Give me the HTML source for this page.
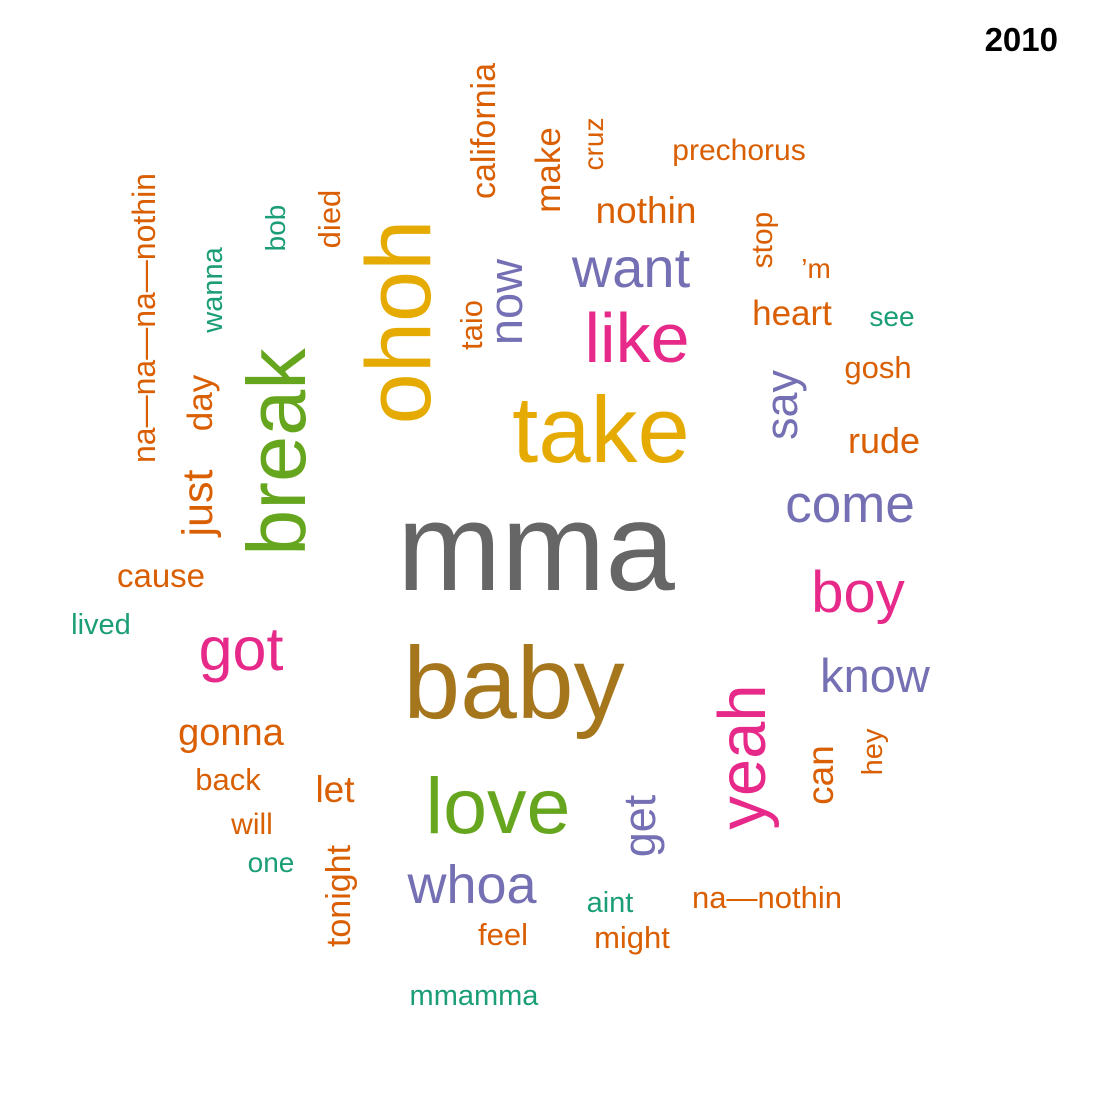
<!DOCTYPE html>
<html>
<head>
<meta charset="utf-8">
<style>
  html,body{margin:0;padding:0;background:#fff;}
  svg{display:block;}
  text{font-family:"Liberation Sans",Arial,sans-serif;}
</style>
</head>
<body>
<svg id="cloud" width="1100" height="1102" viewBox="0 0 1100 1102" xmlns="http://www.w3.org/2000/svg">
  <rect width="1100" height="1102" fill="#ffffff"></rect>
  <text x="1058" y="51" text-anchor="end" font-size="33" font-weight="bold" fill="#000">2010</text>
</svg>
<script>
// Word data
const words = ["mma","baby","take","ohoh","break","love","yeah","like","got","boy","want","come","know","whoa","now","say","get","just","gonna","nothin","heart","rude","let","can","day","tonight","make","california","cruz","prechorus","stop","’m","see","gosh","hey","na—nothin","aint","might","feel","mmamma","one","will","back","cause","lived","na—na—na—nothin","wanna","bob","died","taio"];
const sizes = [125,102,94,92,83,79,67,70,61,58,56,53,47,54,47,45,45,43,38,37,35,36,37,37,35,34,35,34,28,30,30,28,28,31,29,31,29,31,31,29,28,30,31,33,29,32,29,28,31,31];
const colorGroups = ["gray","brown","yellow","yellow","green","green","pink","pink","pink","pink","purple","purple","purple","purple","purple","purple","purple","orange","orange","orange","orange","orange","orange","orange","orange","orange","orange","orange","orange","orange","orange","orange","teal","orange","orange","orange","teal","orange","orange","teal","teal","orange","orange","orange","teal","orange","teal","teal","orange","orange"];
// Layout (placement of each word: center x, baseline, rotation)
const layoutX = [536,514,601,430,305,498,765,637,241,858,631,850,875,472,522,797,655,212,231,646,792,884,335,833,212,350,560,495,603,739,772,816,892,878,882,767,610,632,503,474,271,252,228,161,101,155,222,285,340,482];
const layoutY = [590,718,462,322,452,833,757,362,670,612,287,522,692,903,302,405,826,503,745,223,325,453,802,775,403,896,170,131,144,160,240,278,326,378,752,908,912,948,945,1005,872,834,790,587,634,318,290,228,219,325];
const layoutRot = [0,0,0,-90,-90,0,-90,0,0,0,0,0,0,0,-90,-90,-90,-90,0,0,0,0,0,-90,-90,-90,-90,-90,-90,0,-90,0,0,0,-90,0,0,0,0,0,0,0,0,0,0,-90,-90,-90,-90,-90];
const palette = {gray:"#666666",brown:"#A6761D",yellow:"#E6AB02",green:"#66A61E",pink:"#E7298A",purple:"#7570B3",orange:"#D95F02",teal:"#1B9E77"};

const svg = document.getElementById('cloud');
const NS = "http://www.w3.org/2000/svg";
words.forEach(function(w, i){
  const t = document.createElementNS(NS, 'text');
  t.setAttribute('x', layoutX[i]);
  t.setAttribute('y', layoutY[i]);
  t.setAttribute('font-size', sizes[i]);
  t.setAttribute('fill', palette[colorGroups[i]]);
  t.setAttribute('text-anchor', 'middle');
  if (layoutRot[i] !== 0) {
    t.setAttribute('transform', 'rotate(' + layoutRot[i] + ' ' + layoutX[i] + ' ' + layoutY[i] + ')');
  }
  t.textContent = w;
  
  
  svg.appendChild(t);
});
</script>
</body>
</html>
